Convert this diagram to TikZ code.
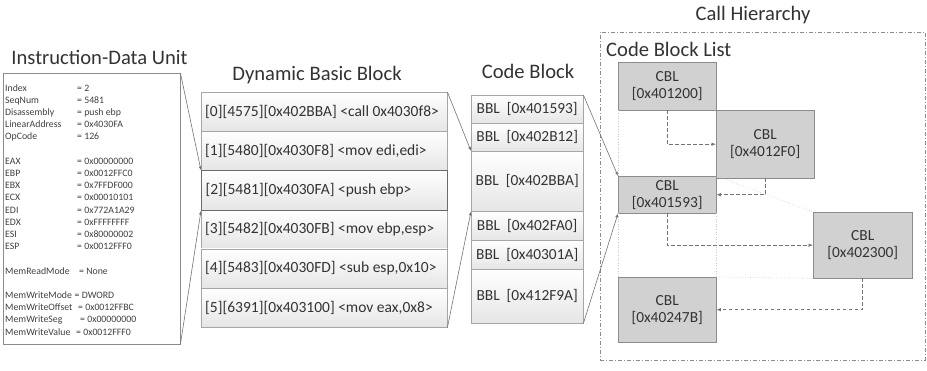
\documentclass[tikz,border=0pt]{standalone}
\usepackage{fontspec}
\setmainfont{Carlito}
\usetikzlibrary{arrows.meta}
% one line of a dynamic basic block, left aligned and never wrapped
\newcommand\dbbline[1]{\makebox[238pt][l]{#1}}

\begin{document}
\begin{tikzpicture}[x=1pt,y=-1pt,
  title/.style={font=\fontsize{20.6}{24}\selectfont, text=black!80, inner sep=0pt, anchor=base},
  idutxt/.style={font=\fontsize{9.8}{11}\selectfont, text=black!75, inner sep=0pt, anchor=base west},
  rowbox/.style={draw=black!35, top color=white, bottom color=black!10, minimum width=246pt,
    minimum height=39.2pt, inner sep=0pt, anchor=north west,
    font=\fontsize{15.5}{18}\selectfont, text=black!80},
  bblbox/.style={draw=black!35, top color=white, bottom color=black!10, minimum width=112pt,
    inner sep=0pt, anchor=north west, align=center,
    font=\fontsize{15.4}{18}\selectfont, text=black!80},
  cblbox/.style={draw=black!45, fill=black!18, inner sep=0pt, anchor=north west, align=center,
    font=\fontsize{15.4}{17}\selectfont, text=black!80},
  zoomline/.style={draw=black!55, line width=0.6pt, -{Latex[length=4pt,width=3pt]}},
  callarrow/.style={draw=black!55, line width=0.8pt, dash pattern=on 3.5pt off 2.5pt,
    -{Latex[length=4.5pt,width=3.5pt]}},
  gridline/.style={draw=black!22, dotted, line width=0.6pt}
]
\useasboundingbox (0,0) rectangle (927,371);

% ---------------- Instruction-Data Unit ----------------
\node[title] (idutitle) at (99.5,65) {Instruction-Data Unit};
\node[draw=black!45, fill=white, anchor=north west, inner sep=0pt,
      minimum width=177pt, minimum height=271pt] (idu) at (3,73) {};

\foreach \k/\name/\val in {0/Index/2, 1/SeqNum/5481, 2/Disassembly/push ebp,
    3/LinearAddress/0x4030FA, 4/OpCode/126,
    6/EAX/0x00000000, 7/EBP/0x0012FFC0, 8/EBX/0x7FFDF000, 9/ECX/0x00010101,
    10/EDI/0x772A1A29, 11/EDX/0xFFFFFFFF, 12/ESI/0x80000002, 13/ESP/0x0012FFF0}{
  \node[idutxt] (idun\k) at (5,{91.2+12.2*\k}) {\name};
  \node[idutxt] (iduv\k) at (77,{91.2+12.2*\k}) {= \val};
}
\foreach \k/\name/\x/\val in {15/MemReadMode/79/None, 17/MemWriteMode/74.5/DWORD,
    18/MemWriteOffset/78/0x0012FFBC, 19/MemWriteSeg/80/0x00000000,
    20/MemWriteValue/76/0x0012FFF0}{
  \node[idutxt] (idun\k) at (5,{91.2+12.2*\k}) {\name};
  \node[idutxt] (iduv\k) at (\x,{91.2+12.2*\k}) {= \val};
}

% ---------------- Dynamic Basic Block ----------------
\node[title] (dbbtitle) at (317,80.7) {Dynamic Basic Block};
\node[rowbox] (r0) at (201,{92+39.2*0}) {\dbbline{[0][4575][0x402BBA] <call 0x4030f8>}};
\node[rowbox] (r1) at (201,{92+39.2*1}) {\dbbline{[1][5480][0x4030F8] <mov edi,edi>}};
\node[rowbox] (r3) at (201,{92+39.2*3}) {\dbbline{[3][5482][0x4030FB] <mov ebp,esp>}};
\node[rowbox] (r4) at (201,{92+39.2*4}) {\dbbline{[4][5483][0x4030FD] <sub esp,0x10>}};
\node[rowbox] (r5) at (201,{92+39.2*5}) {\dbbline{[5][6391][0x403100] <mov eax,0x8>}};
\node[rowbox, draw=black!58, line width=1pt] (r2) at (201,{92+39.2*2}) {\dbbline{[2][5481][0x4030FA] <push ebp>}};

% ---------------- Code Block ----------------
\node[title] (cbtitle) at (528,79) {Code Block};
\node[bblbox, minimum height=28pt] (b0) at (471,95)  {BBL\ \ [0x401593]};
\node[bblbox, minimum height=28pt] (b1) at (471,123) {BBL\ \ [0x402B12]};
\node[bblbox, minimum height=60pt] (b2) at (471,151) {BBL\ \ [0x402BBA]};
\node[bblbox, minimum height=29pt] (b3) at (471,211) {BBL\ \ [0x402FA0]};
\node[bblbox, minimum height=29pt] (b4) at (471,240) {BBL\ \ [0x40301A]};
\node[bblbox, minimum height=54pt] (b5) at (471,269) {BBL\ \ [0x412F9A]};

% ---------------- Call Hierarchy ----------------
\node[title] (chtitle) at (753,20.7) {Call Hierarchy};
\node[draw=black!45, line width=0.7pt, dash pattern=on 4pt off 2pt on 1pt off 2pt,
      anchor=north west, inner sep=0pt, minimum width=325pt, minimum height=328pt] (ch) at (600,32) {};
\node[font=\fontsize{20.6}{24}\selectfont, text=black!80, inner sep=0pt, anchor=base west] (cbltitle) at (606,56.7) {Code Block List};

\node[cblbox, minimum width=98pt, minimum height=48pt] (c1) at (618,62)  {CBL\\{[0x401200]}};
\node[cblbox, minimum width=98pt, minimum height=68pt] (c2) at (716,110) {CBL\\{[0x4012F0]}};
\node[cblbox, minimum width=98pt, minimum height=37pt] (c3) at (618,176) {CBL\\{[0x401593]}};
\node[cblbox, minimum width=99pt, minimum height=66pt] (c4) at (813,212) {CBL\\{[0x402300]}};
\node[cblbox, minimum width=98pt, minimum height=65pt] (c5) at (618,277) {CBL\\{[0x40247B]}};

% faint cell outlines of the list layout
\draw[gridline] (c1.south west) -- (c3.north west);
\draw[gridline] (c3.north east) -- (c4.north west);
\draw[gridline] (c3.south west) -- (c5.north west);
\draw[gridline] (c3.south east) -- (c5.north east);
\draw[gridline] (c5.north east) -- (c4.south west);

% calls between code block lists
\draw[callarrow] (c1.south) |- (c2.west);
\draw[callarrow] (c2.south) |- (c3.east);
\draw[callarrow] (c3.south) |- (c4.west);
\draw[callarrow] (c4.south) |- (c5.east);

% ---------------- zoom connectors ----------------
\draw[zoomline] (idu.north east) -- (r2.north west);
\draw[zoomline] (idu.south east) -- (r2.south west);
\draw[zoomline] (r0.north east) -- (b2.north west);
\draw[zoomline] (r5.south east) -- (b2.south west);
\draw[zoomline] (b0.north east) -- (c3.north west);
\draw[zoomline] (b5.south east) -- (c3.south west);
\end{tikzpicture}
\end{document}
